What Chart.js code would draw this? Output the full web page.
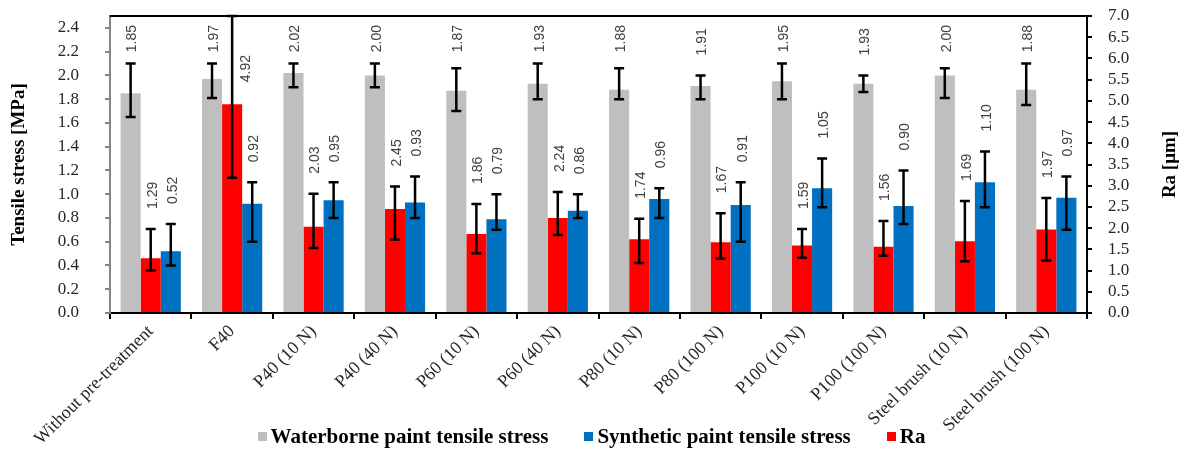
<!DOCTYPE html>
<html lang="en">
<head>
  <meta charset="UTF-8" />
  <title>Tensile stress and Ra by pre-treatment</title>
  <style>
    body {
      margin: 0;
      background: #fff;
    }
    #wrap {
      position: relative;
      width: 1183px;
      height: 456px;
    }
    #legend {
      position: absolute;
      left: 0;
      top: 424px;
      width: 1183px;
      display: flex;
      justify-content: center;
      gap: 36px;
      font: bold 21px "Liberation Serif", "Times New Roman", serif;
      color: #000;
    }
    #legend .item {
      display: flex;
      align-items: center;
    }
    #legend .box {
      width: 9px;
      height: 9px;
      margin-right: 4px;
    }
  </style>
  <script src="https://cdn.jsdelivr.net/npm/chart.js"></script>
</head>
<body>
  <div id="wrap">
    <canvas id="chart" width="1183" height="456"></canvas>
    <div id="legend"></div>
  </div>

  <script>
    const categories = [
      "Without pre-treatment", "F40", "P40 (10 N)", "P40 (40 N)", "P60 (10 N)", "P60 (40 N)",
      "P80 (10 N)", "P80 (100 N)", "P100 (10 N)", "P100 (100 N)", "Steel brush (10 N)", "Steel brush (100 N)"
    ];

    // tensile stress [MPa], left axis
    const waterborne     = [1.85, 1.97, 2.02, 2.00, 1.87, 1.93, 1.88, 1.91, 1.95, 1.93, 2.00, 1.88];
    const waterborneHigh = [2.10, 2.10, 2.10, 2.10, 2.06, 2.10, 2.06, 2.00, 2.10, 2.00, 2.06, 2.10];
    const waterborneLow  = [1.65, 1.81, 1.90, 1.90, 1.70, 1.80, 1.80, 1.80, 1.80, 1.86, 1.81, 1.75];

    const synthetic     = [0.52, 0.92, 0.95, 0.93, 0.79, 0.86, 0.96, 0.91, 1.05, 0.90, 1.10, 0.97];
    const syntheticHigh = [0.75, 1.10, 1.10, 1.15, 1.00, 1.00, 1.05, 1.10, 1.30, 1.20, 1.36, 1.15];
    const syntheticLow  = [0.40, 0.60, 0.80, 0.80, 0.70, 0.80, 0.80, 0.60, 0.89, 0.75, 0.89, 0.70];

    // Ra [um], right axis
    const ra     = [1.29, 4.92, 2.03, 2.45, 1.86, 2.24, 1.74, 1.67, 1.59, 1.56, 1.69, 1.97];
    const raHigh = [1.98, 7.00, 2.81, 2.98, 2.57, 2.85, 2.22, 2.35, 1.98, 2.17, 2.64, 2.71];
    const raLow  = [1.00, 3.19, 1.53, 1.73, 1.41, 1.84, 1.18, 1.28, 1.30, 1.35, 1.22, 1.24];

    const leftTicks = [0, 0.2, 0.4, 0.6, 0.8, 1.0, 1.2, 1.4, 1.6, 1.8, 2.0, 2.2, 2.4];
    const rightTicks = [0, 0.5, 1, 1.5, 2, 2.5, 3, 3.5, 4, 4.5, 5, 5.5, 6, 6.5, 7];

    const serif = "'Liberation Serif', 'Times New Roman', serif";
    Chart.defaults.font.family = serif;
    Chart.defaults.color = "#262626";

    const errorBarsAndLabels = {
      id: "errorBarsAndLabels",
      afterDatasetsDraw(chart) {
        const ctx = chart.ctx;
        const area = chart.chartArea;
        chart.data.datasets.forEach((ds, i) => {
          const meta = chart.getDatasetMeta(i);
          const scale = chart.scales[ds.yAxisID];
          meta.data.forEach((bar, j) => {
            const yHi = scale.getPixelForValue(ds.errHigh[j]);
            const yLo = scale.getPixelForValue(ds.errLow[j]);
            ctx.save();
            ctx.strokeStyle = "#000";
            ctx.lineWidth = 2.5;
            ctx.beginPath();
            ctx.moveTo(bar.x, yHi);
            ctx.lineTo(bar.x, yLo);
            ctx.moveTo(bar.x - 5, yHi);
            ctx.lineTo(bar.x + 5, yHi);
            ctx.moveTo(bar.x - 5, yLo);
            ctx.lineTo(bar.x + 5, yLo);
            ctx.stroke();

            // value label, rotated, above the error bar
            const text = ds.data[j].toFixed(2);
            ctx.font = "14px 'Liberation Sans', Arial, sans-serif";
            ctx.fillStyle = "#404040";
            const w = ctx.measureText(text).width;
            let x = bar.x + 2;
            let yStart = yHi - 20;
            if (ds.errHigh[j] >= scale.max) {
              // error bar runs off the top: put the label beside it
              x = bar.x + 14;
              yStart = bar.y - 22;
            }
            if (yStart - w < area.top + 9) yStart = area.top + 9 + w;
            ctx.translate(x, yStart);
            ctx.rotate(-Math.PI / 2);
            ctx.textAlign = "left";
            ctx.textBaseline = "middle";
            ctx.fillText(text, 0, 0);
            ctx.restore();
          });
        });
      },
      afterDraw(chart) {
        const ctx = chart.ctx;
        const area = chart.chartArea;
        ctx.save();
        // top frame line
        ctx.strokeStyle = "#000";
        ctx.lineWidth = 2;
        ctx.beginPath();
        ctx.moveTo(area.left, area.top);
        ctx.lineTo(area.right, area.top);
        ctx.stroke();
        // right axis title, reading bottom to top
        ctx.translate(1170, (area.top + area.bottom) / 2);
        ctx.rotate(-Math.PI / 2);
        ctx.font = "bold 19px " + serif;
        ctx.fillStyle = "#000";
        ctx.textAlign = "center";
        ctx.textBaseline = "middle";
        ctx.fillText("Ra [\u03bcm]", 0, 0);
        ctx.restore();
      }
    };

    // fixed axis sizes, and no extra vertical room for the end labels
    function fitVertical(width) {
      return (scale) => {
        scale.width = width;
        scale.paddingTop = 0;
        scale.paddingBottom = 0;
      };
    }

    const ctx = document.getElementById("chart").getContext("2d");
    const chart = new Chart(ctx, {
      type: "bar",
      data: {
        labels: categories,
        datasets: [
          {
            label: "Waterborne paint tensile stress",
            data: waterborne,
            errHigh: waterborneHigh,
            errLow: waterborneLow,
            backgroundColor: "#BFBFBF",
            yAxisID: "y"
          },
          {
            label: "Ra",
            data: ra,
            errHigh: raHigh,
            errLow: raLow,
            backgroundColor: "#FF0000",
            yAxisID: "y1"
          },
          {
            label: "Synthetic paint tensile stress",
            data: synthetic,
            errHigh: syntheticHigh,
            errLow: syntheticLow,
            backgroundColor: "#0070C0",
            yAxisID: "y"
          }
        ]
      },
      options: {
        responsive: false,
        animation: false,
        devicePixelRatio: 1,
        categoryPercentage: 0.74,
        barPercentage: 1.0,
        layout: {
          padding: { top: 16, left: 0, right: 0, bottom: 0 }
        },
        plugins: {
          legend: { display: false },
          tooltip: { enabled: false }
        },
        scales: {
          x: {
            afterFit: (scale) => { scale.height = 143; },
            grid: {
              offset: true,
              drawOnChartArea: false,
              tickLength: 6,
              color: "#000",
              lineWidth: 2
            },
            border: { color: "#000", width: 2 },
            ticks: {
              autoSkip: false,
              minRotation: 45,
              maxRotation: 45,
              padding: 2,
              font: { size: 18 },
              color: "#262626"
            }
          },
          y: {
            position: "left",
            min: 0,
            max: 2.5,
            afterFit: fitVertical(110),
            afterBuildTicks: (scale) => {
              scale.ticks = leftTicks.map(v => ({ value: v }));
            },
            grid: {
              drawOnChartArea: false,
              tickLength: 5,
              color: "#868686",
              lineWidth: 2
            },
            border: { color: "#868686", width: 2 },
            ticks: {
              autoSkip: false,
              padding: 26,
              font: { size: 17 },
              color: "#262626",
              callback: (v) => v.toFixed(1)
            },
            title: {
              display: true,
              text: "Tensile stress [MPa]",
              font: { size: 19, weight: "bold" },
              color: "#000",
              padding: { top: 8, bottom: 0 }
            }
          },
          y1: {
            position: "right",
            min: 0,
            max: 7,
            afterFit: fitVertical(96),
            afterBuildTicks: (scale) => {
              scale.ticks = rightTicks.map(v => ({ value: v }));
            },
            grid: {
              drawOnChartArea: false,
              tickLength: 5,
              color: "#000",
              lineWidth: 2
            },
            border: { color: "#000", width: 2 },
            ticks: {
              autoSkip: false,
              padding: 16,
              font: { size: 17 },
              color: "#262626",
              callback: (v) => v.toFixed(1)
            }
          }
        }
      },
      plugins: [errorBarsAndLabels]
    });

    // legend in the order of the original figure
    const legendOrder = [0, 2, 1];
    const legendEl = document.getElementById("legend");
    legendOrder.forEach(i => {
      const ds = chart.data.datasets[i];
      const item = document.createElement("span");
      item.className = "item";
      const box = document.createElement("span");
      box.className = "box";
      box.style.background = ds.backgroundColor;
      item.appendChild(box);
      item.appendChild(document.createTextNode(ds.label));
      legendEl.appendChild(item);
    });
  </script>
</body>
</html>
